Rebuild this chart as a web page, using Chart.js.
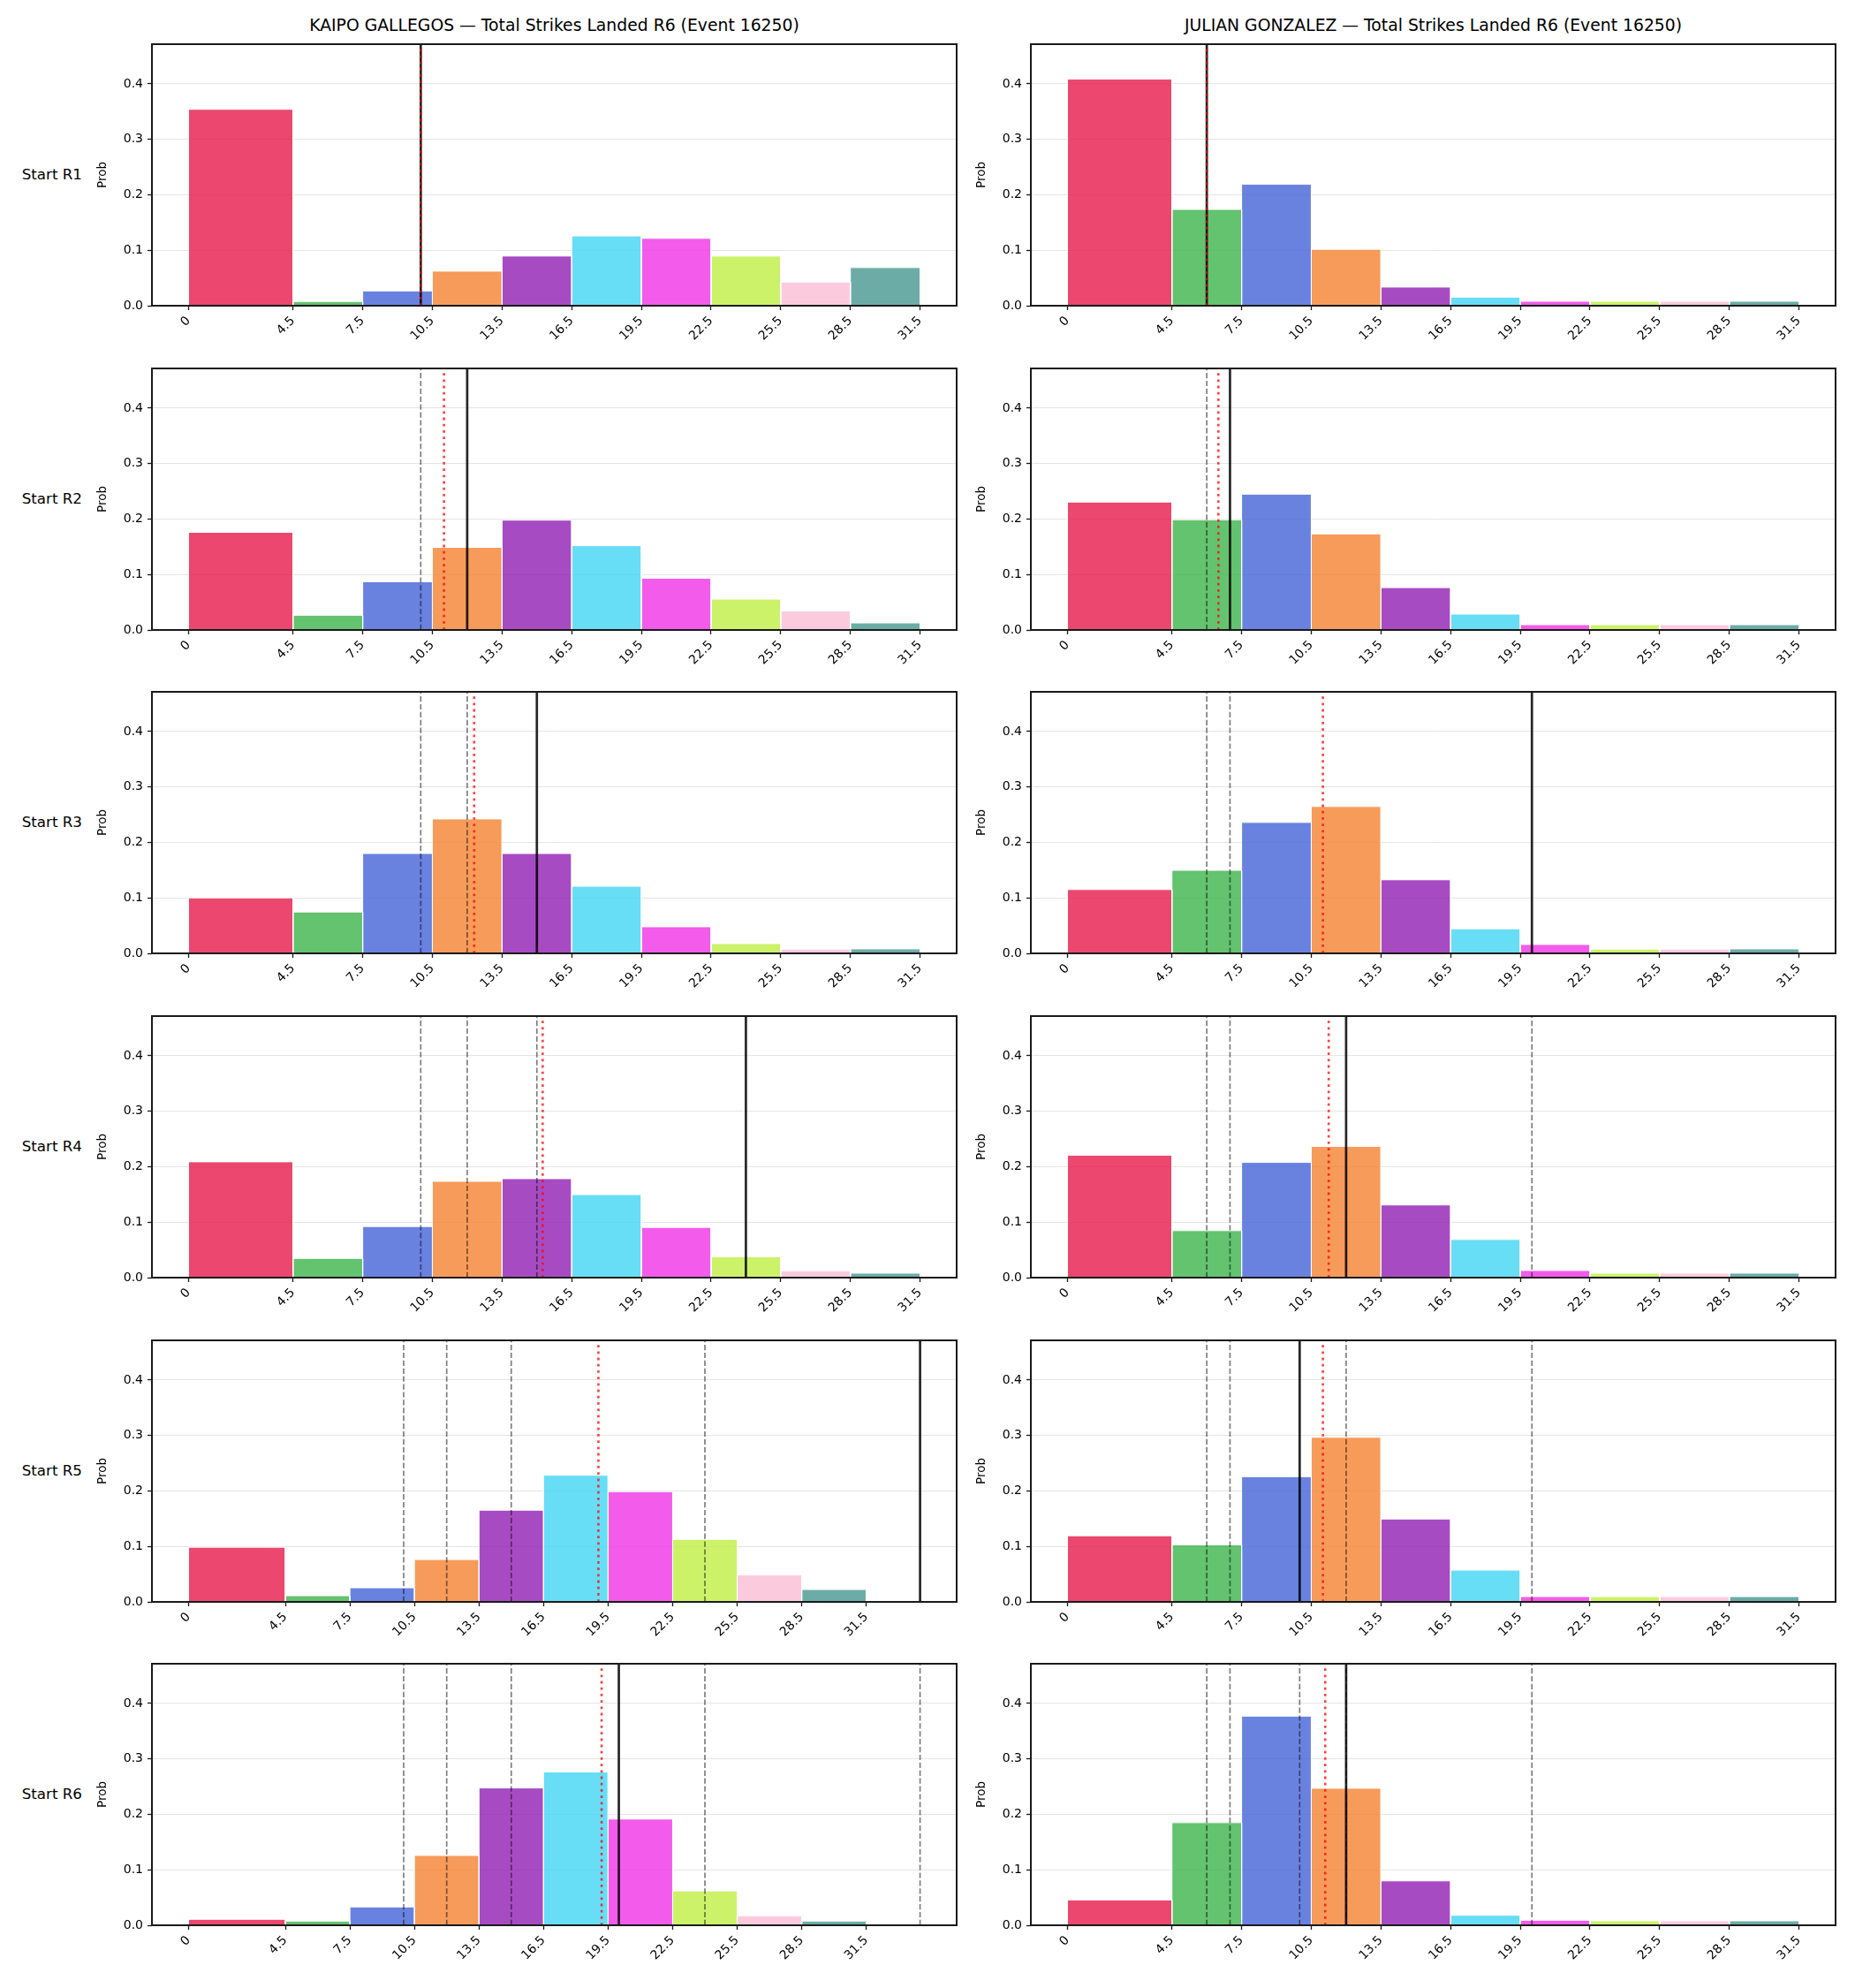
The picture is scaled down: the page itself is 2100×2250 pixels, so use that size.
<!DOCTYPE html>
<html>
<head>
<meta charset="utf-8">
<script src="https://cdn.jsdelivr.net/npm/chart.js@4.4.1/dist/chart.umd.min.js"></script>
<style>
  body { margin: 0; background: #fff; }
  #fig { position: relative; width: 2100px; height: 2250px; background: #fff; font-family: "DejaVu Sans", sans-serif; color: #000; }
  #fig canvas { position: absolute; }
  .colTitle { position: absolute; width: 1000px; font-size: 18.8px; line-height: 22px; text-align: center; white-space: nowrap; }
  .rowLabel { position: absolute; left: 0; width: 93px; font-size: 16.7px; line-height: 20px; text-align: right; white-space: nowrap; }
</style>
</head>
<body>
<div id="fig"></div>
<script>
// bins / ticks
const binEdges = [0, 4.5, 7.5, 10.5, 13.5, 16.5, 19.5, 22.5, 25.5, 28.5, 31.5];
const tickLabels = ["0", "4.5", "7.5", "10.5", "13.5", "16.5", "19.5", "22.5", "25.5", "28.5", "31.5"];
const binColors = ["#e6194B", "#3cb44b", "#4363d8", "#f58231", "#911eb4", "#42d4f4", "#f032e6", "#bfef45", "#fabed4", "#469990"];
const yTicks = [0, 0.1, 0.2, 0.3, 0.4];
const yMax = 0.4715;

const roundLabels = ["Start R1", "Start R2", "Start R3", "Start R4", "Start R5", "Start R6"];
const fighterNames = ["KAIPO GALLEGOS", "JULIAN GONZALEZ"];
const titleSuffix = " \u2014 Total Strikes Landed R6 (Event 16250)";

// probability per bin, per round start
const kaipoR1 = [0.354, 0.0075, 0.0266, 0.0623, 0.0895, 0.1257, 0.1214, 0.0895, 0.0426, 0.0687];
const kaipoR2 = [0.176, 0.0265, 0.0869, 0.1489, 0.198, 0.152, 0.0932, 0.0556, 0.0344, 0.0127];
const kaipoR3 = [0.100, 0.0746, 0.180, 0.2423, 0.180, 0.1209, 0.0479, 0.0176, 0.0075, 0.008];
const kaipoR4 = [0.2088, 0.0346, 0.0921, 0.1736, 0.1784, 0.1497, 0.0905, 0.0378, 0.0123, 0.008];
const kaipoR5 = [0.0985, 0.0111, 0.0254, 0.0763, 0.1653, 0.2283, 0.1987, 0.1128, 0.0487, 0.0223];
const kaipoR6 = [0.0107, 0.0075, 0.033, 0.1259, 0.2475, 0.2763, 0.1915, 0.0619, 0.0171, 0.0075];

const julianR1 = [0.4085, 0.1736, 0.2189, 0.1017, 0.0336, 0.0154, 0.008, 0.008, 0.008, 0.008];
const julianR2 = [0.2305, 0.1987, 0.2448, 0.1732, 0.0763, 0.0286, 0.0095, 0.0095, 0.0095, 0.0095];
const julianR3 = [0.115, 0.1497, 0.236, 0.2647, 0.1326, 0.0442, 0.016, 0.0075, 0.0075, 0.008];
const julianR4 = [0.2205, 0.0847, 0.2077, 0.2365, 0.131, 0.0687, 0.0128, 0.008, 0.008, 0.008];
const julianR5 = [0.1192, 0.1028, 0.2257, 0.2967, 0.1494, 0.0572, 0.0095, 0.0095, 0.0095, 0.0095];
const julianR6 = [0.0457, 0.185, 0.377, 0.247, 0.080, 0.018, 0.009, 0.008, 0.008, 0.008];

// vertical markers: solid black = landed so far, red dotted = expected
const kaipoActual = [10, 12, 15, 24, 34, 20];
const kaipoMean = [10, 11, 12.3, 15.25, 19.05, 19.2];
const julianActual = [6, 7, 20, 12, 10, 12];
const julianMean = [6, 6.5, 11, 11.25, 11, 11.1];

const kaipoProbs = [kaipoR1, kaipoR2, kaipoR3, kaipoR4, kaipoR5, kaipoR6];
const julianProbs = [julianR1, julianR2, julianR3, julianR4, julianR5, julianR6];

// layout (px)
const cols = [{ left: 172, width: 911 }, { left: 1167, width: 911 }];
const rowTop0 = 50, rowStep = 366.67, plotH = 296;
const AXIS_W = 64, AXIS_H = 62, PAD_T = 14, PAD_R = 20;
const FONT = "DejaVu Sans";

function rgba(hex, a) {
  const n = parseInt(hex.slice(1), 16);
  return `rgba(${(n >> 16) & 255},${(n >> 8) & 255},${n & 255},${a})`;
}

const framePlugin = {
  id: 'frame',
  afterDatasetsDraw(chart) {
    const { ctx, chartArea: a } = chart;
    ctx.save();
    ctx.strokeStyle = '#1a1a1a';
    ctx.lineWidth = 2;
    ctx.strokeRect(a.left, a.top, a.right - a.left, a.bottom - a.top);
    ctx.restore();
  }
};

function vline(x, color, width, dash, order) {
  return {
    type: 'line',
    data: [{ x: x, y: 0 }, { x: x, y: yMax }],
    borderColor: color,
    borderWidth: width,
    borderDash: dash,
    fill: false,
    pointRadius: 0,
    order: order
  };
}

function makePanel(col, row, probs, actual, mean) {
  const fig = document.getElementById('fig');
  const c = cols[col];
  const top = Math.round(rowTop0 + row * rowStep);
  const canvas = document.createElement('canvas');
  canvas.width = AXIS_W + c.width + PAD_R;
  canvas.height = PAD_T + plotH + AXIS_H;
  canvas.style.left = (c.left - AXIS_W) + 'px';
  canvas.style.top = (top - PAD_T) + 'px';
  fig.appendChild(canvas);

  const previous = actual.slice(0, row);
  const xMax = Math.max(binEdges[binEdges.length - 1], ...actual.slice(0, row + 1));
  const margin = 0.05 * xMax;

  const datasets = [];
  probs.forEach((p, i) => {
    datasets.push({
      type: 'line',
      data: [
        { x: binEdges[i], y: 0 }, { x: binEdges[i], y: p },
        { x: binEdges[i + 1], y: p }, { x: binEdges[i + 1], y: 0 }
      ],
      backgroundColor: rgba(binColors[i], 0.8),
      borderColor: '#ffffff',
      borderWidth: 1,
      fill: 'origin',
      pointRadius: 0,
      order: 10
    });
  });
  previous.forEach(v => datasets.push(vline(v, 'rgba(0,0,0,0.5)', 1.7, [6.2, 2.7], 3)));
  datasets.push(vline(actual[row], 'rgba(0,0,0,0.85)', 2.7, [], 2));
  datasets.push(vline(mean[row], 'rgba(255,0,0,0.75)', 2.6, [2.8, 4.4], 1));

  new Chart(canvas, {
    type: 'line',
    data: { datasets: datasets },
    plugins: [framePlugin],
    options: {
      responsive: false,
      devicePixelRatio: 1,
      animation: false,
      events: [],
      layout: { autoPadding: false, padding: { top: PAD_T, right: PAD_R, left: 0, bottom: 0 } },
      plugins: { legend: { display: false }, tooltip: { enabled: false }, title: { display: false } },
      scales: {
        x: {
          type: 'linear',
          min: -margin,
          max: xMax + margin,
          afterBuildTicks: s => { s.ticks = binEdges.map(v => ({ value: v })); },
          afterFit: s => { s.height = AXIS_H; },
          ticks: {
            autoSkip: false,
            minRotation: 45,
            maxRotation: 45,
            padding: 4,
            color: '#000',
            font: { family: FONT, size: 14 },
            callback: (v, i) => tickLabels[i]
          },
          grid: { drawOnChartArea: false, drawTicks: true, tickLength: 5, tickColor: '#1a1a1a', tickWidth: 1.3 },
          border: { display: false }
        },
        y: {
          min: 0,
          max: yMax,
          afterBuildTicks: s => { s.ticks = yTicks.map(v => ({ value: v })); },
          afterFit: s => { s.width = AXIS_W; },
          ticks: {
            padding: 5,
            color: '#000',
            font: { family: FONT, size: 14 },
            callback: v => v.toFixed(1)
          },
          grid: { color: 'rgba(0,0,0,0.1)', lineWidth: 1, tickLength: 5, tickColor: '#1a1a1a', tickWidth: 1.3 },
          border: { display: false },
          title: { display: true, text: 'Prob', color: '#000', font: { family: FONT, size: 13.5 }, padding: { top: 0, bottom: 0 } }
        }
      }
    }
  });
}

function addText(cls, text, left, top) {
  const d = document.createElement('div');
  d.className = cls;
  d.textContent = text;
  if (left !== null) d.style.left = left + 'px';
  d.style.top = top + 'px';
  document.getElementById('fig').appendChild(d);
}

fighterNames.forEach((name, col) => {
  const center = cols[col].left + cols[col].width / 2;
  addText('colTitle', name + titleSuffix, center - 500, 18);
});

roundLabels.forEach((label, row) => {
  const mid = rowTop0 + row * rowStep + plotH / 2;
  addText('rowLabel', label, null, mid - 11);
  makePanel(0, row, kaipoProbs[row], kaipoActual, kaipoMean);
  makePanel(1, row, julianProbs[row], julianActual, julianMean);
});
</script>
</body>
</html>
